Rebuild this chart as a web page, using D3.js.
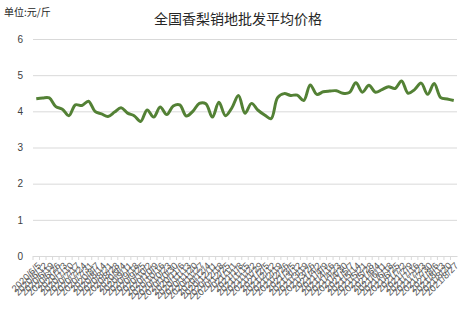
<!DOCTYPE html>
<html>
<head>
<meta charset="utf-8">
<script src="https://cdn.jsdelivr.net/npm/d3@7"></script>
<style>
  body { margin: 0; background: #fff; }
  svg { display: block; font-family: "Liberation Sans", "Noto Sans CJK SC", sans-serif; }
  .grid line { stroke: #d9d9d9; }
  .grid .domain { display: none; }
  .y-axis .domain, .y-axis line { display: none; }
  .y-axis text { fill: #404040; font-size: 10px; }
  .x-axis .domain, .x-axis line { stroke: #d9d9d9; }
  .x-axis text { fill: #595959; font-size: 9.5px; }
</style>
</head>
<body>
<svg id="chart"></svg>
<script>
// Dates of each observation (x categories)
const dates = [
  '2020/6/5', '2020/6/12', '2020/6/19', '2020/6/26', '2020/7/3', '2020/7/10', '2020/7/17', '2020/7/24',
  '2020/7/31', '2020/8/7', '2020/8/14', '2020/8/21', '2020/8/28', '2020/9/4', '2020/9/11', '2020/9/18',
  '2020/9/25', '2020/10/2', '2020/10/9', '2020/10/16', '2020/10/23', '2020/10/30', '2020/11/6', '2020/11/13',
  '2020/11/20', '2020/11/27', '2020/12/4', '2020/12/11', '2020/12/18', '2020/12/25', '2021/1/1', '2021/1/8',
  '2021/1/15', '2021/1/22', '2021/1/29', '2021/2/5', '2021/2/12', '2021/2/19', '2021/2/26', '2021/3/5',
  '2021/3/12', '2021/3/19', '2021/3/26', '2021/4/2', '2021/4/9', '2021/4/16', '2021/4/23', '2021/4/30',
  '2021/5/7', '2021/5/14', '2021/5/21', '2021/5/28', '2021/6/4', '2021/6/11', '2021/6/18', '2021/6/25',
  '2021/7/2', '2021/7/9', '2021/7/16', '2021/7/23', '2021/7/30', '2021/8/6', '2021/8/13', '2021/8/20',
  '2021/8/27'
];

// Average wholesale price, yuan per jin
const prices = [
  4.35, 4.37, 4.37, 4.13, 4.06, 3.88, 4.18, 4.16, 4.28, 4.00,
  3.93, 3.86, 3.98, 4.10, 3.95, 3.88, 3.72, 4.04, 3.84, 4.12,
  3.91, 4.15, 4.18, 3.87, 4.00, 4.22, 4.21, 3.84, 4.25, 3.88,
  4.10, 4.44, 3.95, 4.22, 4.03, 3.90, 3.80, 4.38, 4.49, 4.44,
  4.45, 4.30, 4.73, 4.47, 4.54, 4.56, 4.57, 4.50, 4.52, 4.79,
  4.53, 4.72, 4.53, 4.60, 4.68, 4.63, 4.84, 4.50, 4.60, 4.78,
  4.47, 4.77, 4.38, 4.34, 4.30
];

const yTicks = [0, 1, 2, 3, 4, 5, 6];

const title = '全国香梨销地批发平均价格';
const unitLabel = '单位:元/斤';

const config = {
  width: 468,
  height: 335,
  margin: {top: 39, right: 11, bottom: 79, left: 33}
};

const width = config.width - config.margin.left - config.margin.right;
const height = config.height - config.margin.top - config.margin.bottom;

const svg = d3.select('#chart')
  .attr('width', config.width)
  .attr('height', config.height);

const chart = svg.append('g')
  .attr('transform', `translate(${config.margin.left},${config.margin.top})`);

const xScale = d3.scaleBand()
  .domain(dates)
  .range([0, width]);

const yScale = d3.scaleLinear()
  .domain([0, 6])
  .range([height, 0]);

// Horizontal gridlines
chart.append('g')
  .attr('class', 'grid')
  .call(d3.axisLeft(yScale).tickValues(yTicks).tickSize(-width).tickFormat(''));

// Y axis labels
chart.append('g')
  .attr('class', 'y-axis')
  .call(d3.axisLeft(yScale).tickValues(yTicks).tickSize(0).tickPadding(10).tickFormat(d3.format('d')));

// X axis with tick marks between categories
const xAxisG = chart.append('g')
  .attr('class', 'x-axis')
  .attr('transform', `translate(0,${height})`)
  .call(d3.axisBottom(xScale).tickSize(4).tickSizeOuter(0));

xAxisG.selectAll('.tick line')
  .attr('x1', -xScale.bandwidth() / 2)
  .attr('x2', -xScale.bandwidth() / 2);

xAxisG.selectAll('.tick text')
  .attr('text-anchor', 'end')
  .attr('dy', '0.35em')
  .attr('transform', 'translate(3,8) rotate(-45)')
  .attr('x', 0)
  .attr('y', 0);

// Price line
const line = d3.line()
  .x((d, i) => xScale(dates[i]) + xScale.bandwidth() / 2)
  .y(d => yScale(d))
  .curve(d3.curveCatmullRom);

chart.append('path')
  .datum(prices)
  .attr('fill', 'none')
  .attr('stroke', '#538135')
  .attr('stroke-width', 3)
  .attr('stroke-linejoin', 'round')
  .attr('d', line);

// Title and unit
svg.append('text')
  .attr('x', 238)
  .attr('y', 24)
  .attr('text-anchor', 'middle')
  .attr('font-size', 14)
  .attr('fill', '#262626')
  .style('font-family', '"Noto Sans CJK SC", sans-serif')
  .text(title);

svg.append('text')
  .attr('x', 4)
  .attr('y', 16)
  .attr('font-size', 10)
  .attr('fill', '#262626')
  .style('font-family', '"Noto Sans CJK SC", sans-serif')
  .text(unitLabel);
</script>
</body>
</html>
